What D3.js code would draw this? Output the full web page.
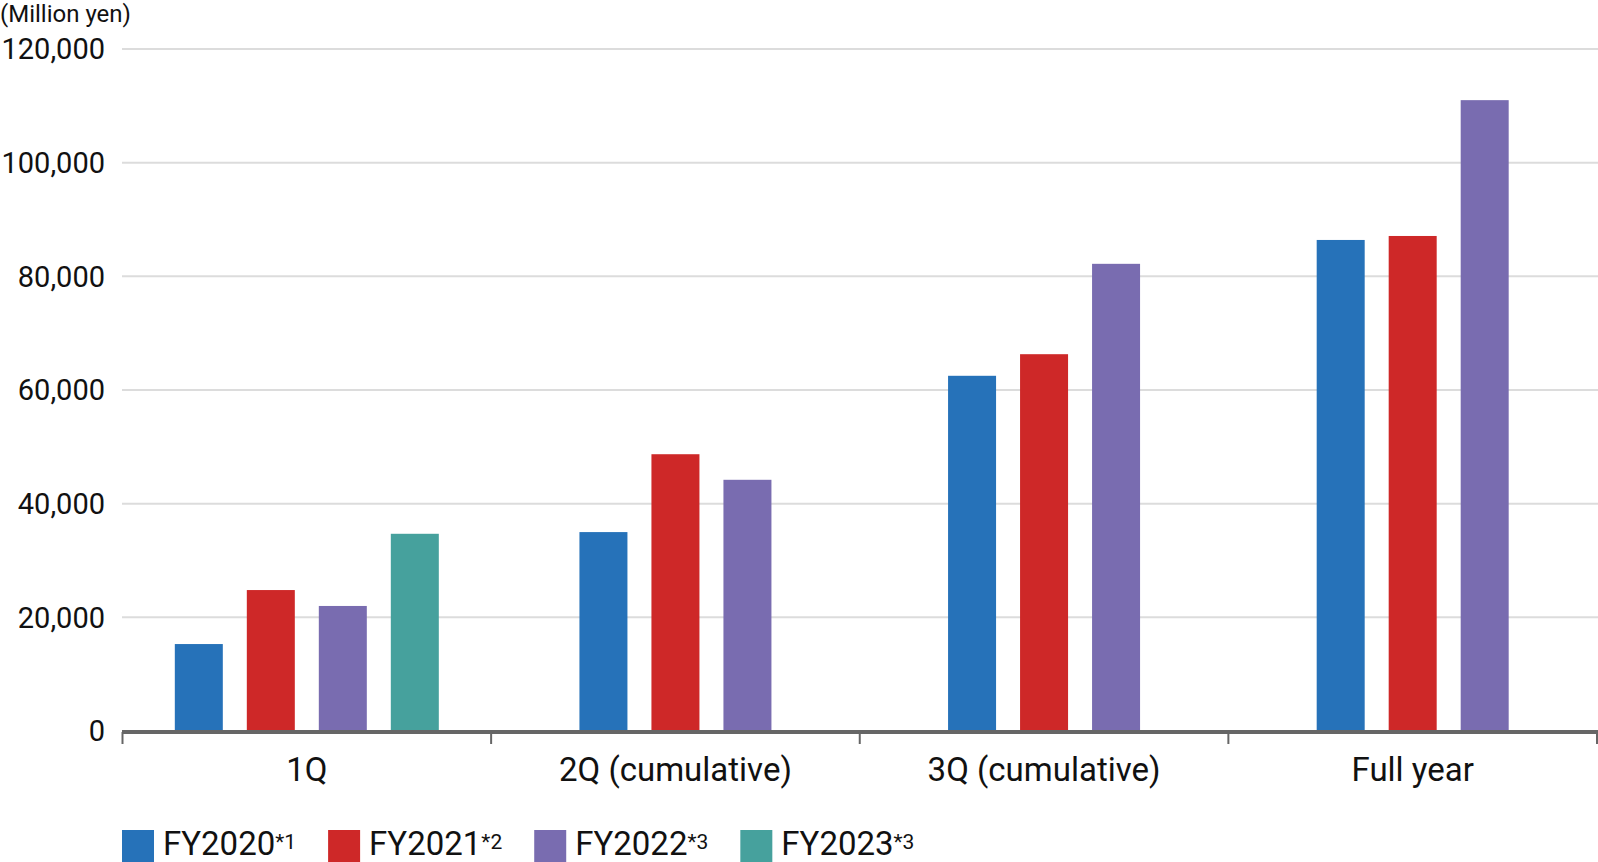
<!DOCTYPE html>
<html>
<head>
<meta charset="utf-8">
<script src="https://cdn.jsdelivr.net/npm/d3@7"></script>
<style>
  html, body { margin: 0; padding: 0; background: #fff; }
  svg { display: block; font-family: Roboto, "Noto Sans", sans-serif; }
</style>
</head>
<body>
<div id="chart"></div>
<script>
const categories = ['1Q', '2Q (cumulative)', '3Q (cumulative)', 'Full year']
const seriesNames = ['FY2020', 'FY2021', 'FY2022', 'FY2023']
const seriesNotes = ['*1', '*2', '*3', '*3']
const seriesColors = ['#2672b9', '#ce2828', '#796cb0', '#46a19d']
const fy2020 = [15300, 35000, 62500, 86400]
const fy2021 = [24800, 48700, 66300, 87100]
const fy2022 = [22000, 44200, 82200, 111000]
const fy2023 = [34700, null, null, null]
const yTicks = [0, 20000, 40000, 60000, 80000, 100000, 120000]

const seriesValues = [fy2020, fy2021, fy2022, fy2023]

const width = 1598
const height = 862

const svg = d3.select('#chart').append('svg')
  .attr('width', width)
  .attr('height', height)

const xScale = d3.scaleBand().domain(categories).range([122.5, 1597]).padding(0)
const yScale = d3.scaleLinear().domain([0, 120000]).range([731, 49])

// unit label
svg.append('text')
  .attr('x', 0)
  .attr('y', 22)
  .attr('font-size', 24)
  .attr('fill', '#111')
  .text('(Million yen)')

// gridlines + y labels
const yAxis = svg.append('g')
yAxis.selectAll('line')
  .data(yTicks.filter(d => d > 0))
  .enter().append('line')
  .attr('x1', 122)
  .attr('x2', width)
  .attr('y1', d => yScale(d))
  .attr('y2', d => yScale(d))
  .attr('stroke', '#dcdcdc')
  .attr('stroke-width', 2)
yAxis.selectAll('text')
  .data(yTicks)
  .enter().append('text')
  .attr('x', 105)
  .attr('y', d => yScale(d))
  .attr('dy', '0.36em')
  .attr('text-anchor', 'end')
  .attr('font-size', 29)
  .attr('fill', '#111')
  .text(d => d3.format(',')(d))

// bars, centred on the series that have a value
const barStep = 72
const barWidth = 48
const bars = svg.append('g')
categories.forEach((cat, ci) => {
  const present = seriesValues
    .map((vals, si) => ({ si, v: vals[ci] }))
    .filter(d => d.v !== null)
  const center = xScale(cat) + xScale.bandwidth() / 2
  const start = center - (present.length - 1) * barStep / 2
  bars.selectAll(null)
    .data(present)
    .enter().append('rect')
    .attr('x', (d, i) => start + i * barStep - barWidth / 2)
    .attr('width', barWidth)
    .attr('y', d => yScale(d.v))
    .attr('height', d => yScale(0) - yScale(d.v))
    .attr('fill', d => seriesColors[d.si])
})

// x axis
const xAxis = svg.append('g')
xAxis.append('line')
  .attr('x1', 122)
  .attr('x2', width)
  .attr('y1', 732)
  .attr('y2', 732)
  .attr('stroke', '#666')
  .attr('stroke-width', 4)
const edges = categories.map(c => xScale(c)).concat([xScale.range()[1]])
xAxis.selectAll('line.tick')
  .data(edges)
  .enter().append('line')
  .attr('class', 'tick')
  .attr('x1', d => d)
  .attr('x2', d => d)
  .attr('y1', 732)
  .attr('y2', 744)
  .attr('stroke', '#666')
  .attr('stroke-width', 2)
xAxis.selectAll('text')
  .data(categories)
  .enter().append('text')
  .attr('x', d => xScale(d) + xScale.bandwidth() / 2)
  .attr('y', 781)
  .attr('text-anchor', 'middle')
  .attr('font-size', 33)
  .attr('fill', '#111')
  .text(d => d)

// legend
const legend = svg.append('g')
let lx = 122
seriesNames.forEach((name, i) => {
  const item = legend.append('g').attr('transform', 'translate(' + lx + ',0)')
  item.append('rect')
    .attr('x', 0)
    .attr('y', 830)
    .attr('width', 32)
    .attr('height', 32)
    .attr('fill', seriesColors[i])
  const label = item.append('text')
    .attr('x', 41)
    .attr('y', 855)
    .attr('font-size', 33)
    .attr('fill', '#111')
  label.append('tspan').text(name)
  label.append('tspan')
    .attr('font-size', 21)
    .attr('dy', -6)
    .text(seriesNotes[i])
  const w = label.node().getComputedTextLength()
  lx += 41 + w + 32
})
</script>
</body>
</html>
